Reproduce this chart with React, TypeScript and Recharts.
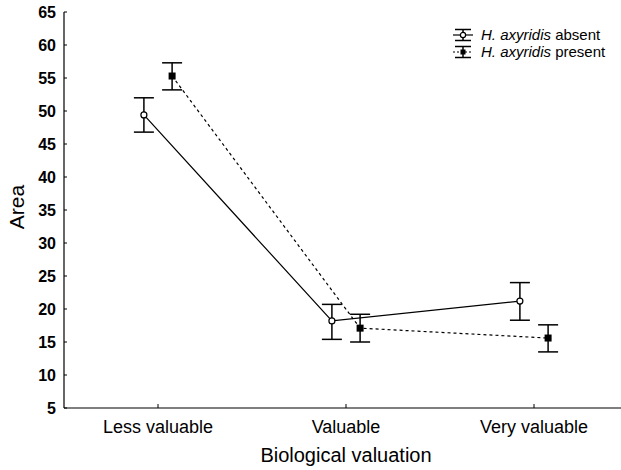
import React from 'react';
import { ComposedChart, Line, XAxis, YAxis, ErrorBar } from 'recharts';

// values (means with lower / upper error limits)
const categories = ['Less valuable', 'Valuable', 'Very valuable'];
const absentMean = [49.4, 18.2, 21.2];
const absentLow = [46.8, 15.4, 18.3];
const absentHigh = [52.0, 20.7, 24.0];
const presentMean = [55.3, 17.1, 15.6];
const presentLow = [53.2, 15.0, 13.5];
const presentHigh = [57.3, 19.2, 17.6];
const yTicks = [5, 10, 15, 20, 25, 30, 35, 40, 45, 50, 55, 60, 65];
const catTicks = [0, 1, 2];

const DODGE = 0.075;
const FONT = '"Liberation Sans", Arial, sans-serif';
const X_MARGIN = 12;
const Y_MARGIN = 8;

const absentData = categories.map((c, i) => ({
  x: i - DODGE,
  y: absentMean[i],
  err: [absentMean[i] - absentLow[i], absentHigh[i] - absentMean[i]],
}));
const presentData = categories.map((c, i) => ({
  x: i + DODGE,
  y: presentMean[i],
  err: [presentMean[i] - presentLow[i], presentHigh[i] - presentMean[i]],
}));

const BottomTick = (props: any) => {
  const { x, y, payload } = props;
  const axisY = y - X_MARGIN;
  return (
    <g>
      <line x1={x} x2={x} y1={axisY} y2={axisY - 4} stroke="#000" />
      <text x={x} y={y} dy="0.71em" textAnchor="middle" fontFamily={FONT} fontSize={18} fill="#000">
        {categories[payload.value]}
      </text>
    </g>
  );
};

const TopTick = (props: any) => {
  const { x, y } = props;
  return <line x1={x} x2={x} y1={y} y2={y + 4} stroke="#000" />;
};

const LeftTick = (props: any) => {
  const { x, y, payload } = props;
  const axisX = x + Y_MARGIN;
  return (
    <g>
      <line x1={axisX} x2={axisX + 3} y1={y} y2={y} stroke="#000" />
      <text x={x} y={y} dy="0.36em" textAnchor="end" fontFamily={FONT} fontSize={16} fontWeight="bold" fill="#000">
        {payload.value}
      </text>
    </g>
  );
};

const OpenDot = (props: any) => (
  <circle key={props.index} cx={props.cx} cy={props.cy} r={3} fill="#fff" stroke="#000" strokeWidth={1.2} />
);

const FilledDot = (props: any) => (
  <rect key={props.index} x={props.cx - 3.5} y={props.cy - 3.5} width={7} height={7} fill="#000" />
);

const LegendIcon = ({ dashed, filled }: { dashed: boolean; filled: boolean }) => (
  <svg width={22} height={14} style={{ display: 'block' }}>
    <line x1={1} x2={21} y1={7} y2={7} stroke="#000" strokeWidth={1.2} strokeDasharray={dashed ? '2 2' : undefined} />
    <line x1={3} x2={19} y1={1.5} y2={1.5} stroke="#000" strokeWidth={1.5} />
    <line x1={3} x2={19} y1={12.5} y2={12.5} stroke="#000" strokeWidth={1.5} />
    <line x1={11} x2={11} y1={1.5} y2={12.5} stroke="#000" strokeWidth={1.5} />
    {filled ? (
      <rect x={8.5} y={4.5} width={5} height={5} fill="#000" />
    ) : (
      <circle cx={11} cy={7} r={2.6} fill="#fff" stroke="#000" strokeWidth={1.2} />
    )}
  </svg>
);

const legendRows = [
  { label: 'absent', dashed: false, filled: false },
  { label: 'present', dashed: true, filled: true },
];

export default function App() {
  return (
    <div style={{ position: 'fixed', left: 0, top: 0, width: 621, height: 470, overflow: 'hidden', background: '#fff' }}>
      <ComposedChart width={640} height={470} margin={{ top: 12, right: 12, bottom: 0, left: 0 }}>
        <XAxis
          xAxisId={0}
          dataKey="x"
          type="number"
          domain={[-0.5, 2.5]}
          ticks={catTicks}
          allowDataOverflow
          height={62}
          tickSize={0}
          tickMargin={X_MARGIN}
          tick={<BottomTick />}
          axisLine={{ stroke: '#000', strokeWidth: 1.2 }}
          label={{
            content: ({ viewBox }: any) => (
              <text
                x={viewBox.x + viewBox.width / 2}
                y={viewBox.y + 54}
                textAnchor="middle"
                fontFamily={FONT}
                fontSize={20}
                fill="#000"
              >
                Biological valuation
              </text>
            ),
          }}
        />
        <XAxis
          xAxisId="top"
          orientation="top"
          type="number"
          domain={[-0.5, 2.5]}
          ticks={catTicks}
          height={0}
          tickSize={0}
          tickMargin={0}
          tick={<TopTick />}
          axisLine={{ stroke: '#000', strokeWidth: 1.2 }}
        />
        <YAxis
          type="number"
          domain={[5, 65]}
          ticks={yTicks}
          width={64}
          tickSize={0}
          tickMargin={Y_MARGIN}
          tick={<LeftTick />}
          axisLine={{ stroke: '#000', strokeWidth: 1.2 }}
          label={{
            content: ({ viewBox }: any) => {
              const cx = 16;
              const cy = viewBox.y + viewBox.height / 2 - 3;
              return (
                <text
                  x={cx}
                  y={cy}
                  transform={`rotate(-90, ${cx}, ${cy})`}
                  textAnchor="middle"
                  dominantBaseline="central"
                  fontFamily={FONT}
                  fontSize={21}
                  fill="#000"
                >
                  Area
                </text>
              );
            },
          }}
        />
        <Line
          data={absentData}
          dataKey="y"
          stroke="#000"
          strokeWidth={1.2}
          dot={OpenDot}
          activeDot={false}
          isAnimationActive={false}
        >
          <ErrorBar dataKey="err" width={10} stroke="#000" strokeWidth={1.5} direction="y" isAnimationActive={false} />
        </Line>
        <Line
          data={presentData}
          dataKey="y"
          stroke="#000"
          strokeWidth={1.2}
          strokeDasharray="3 3"
          dot={FilledDot}
          activeDot={false}
          isAnimationActive={false}
        >
          <ErrorBar dataKey="err" width={10} stroke="#000" strokeWidth={1.5} direction="y" isAnimationActive={false} />
        </Line>
      </ComposedChart>
      <div style={{ position: 'absolute', left: 452, top: 26, fontFamily: FONT, fontSize: 15, color: '#000' }}>
        {legendRows.map((r) => (
          <div key={r.label} style={{ display: 'flex', alignItems: 'center', height: 17 }}>
            <LegendIcon dashed={r.dashed} filled={r.filled} />
            <span style={{ marginLeft: 7 }}>
              <i>H. axyridis</i> {r.label}
            </span>
          </div>
        ))}
      </div>
    </div>
  );
}
